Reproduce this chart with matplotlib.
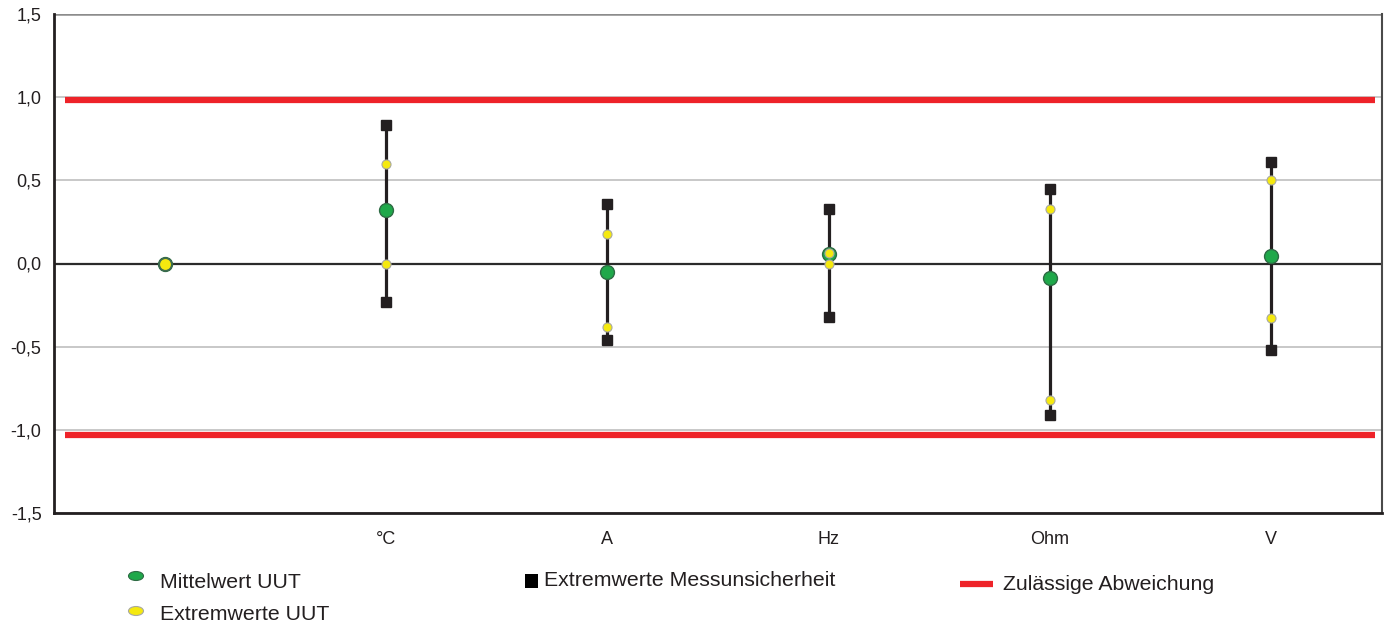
import matplotlib.pyplot as plt
from matplotlib.patches import Ellipse, Rectangle

plt.rcParams['font.family'] = ['Liberation Sans', 'DejaVu Sans']

# categories (first one has no label)
categories = ["", "°C", "A", "Hz", "Ohm", "V"]
mittelwert = [0.0, 0.32, -0.05, 0.06, -0.09, 0.045]
uut_max = [0.0, 0.60, 0.18, 0.065, 0.33, 0.50]
uut_min = [0.0, 0.0, -0.38, 0.0, -0.82, -0.33]
mu_max = [None, 0.83, 0.36, 0.33, 0.45, 0.61]
mu_min = [None, -0.23, -0.46, -0.32, -0.91, -0.52]
limit_upper = 0.98
limit_lower = -1.03
y_ticks = [-1.5, -1.0, -0.5, 0.0, 0.5, 1.0, 1.5]

fig = plt.figure(figsize=(13.89, 6.23), dpi=100)
ax = fig.add_axes([54 / 1389, 1 - 513 / 623, (1382 - 54) / 1389, (513 - 14) / 623])

x = list(range(len(categories)))

# grid lines
for t in y_ticks:
    if t == 0:
        ax.axhline(t, color="#2b2b2b", lw=1.6, zorder=1)
    elif t == 1.5:
        ax.axhline(t, color="#8c8c8c", lw=1.8, zorder=1)
    else:
        ax.axhline(t, color="#c4c4c4", lw=1.3, zorder=1)

# limits
ax.plot([-0.45, 5.47], [limit_upper, limit_upper], color="#ee2329", lw=4.5, zorder=2, solid_capstyle="butt")
ax.plot([-0.45, 5.47], [limit_lower, limit_lower], color="#ee2329", lw=4.5, zorder=2, solid_capstyle="butt")

# measurement uncertainty bars
for i in x:
    if mu_max[i] is None:
        continue
    ax.plot([i, i], [mu_min[i], mu_max[i]], color="#231f20", lw=2.3, zorder=3)
    ax.plot([i, i], [mu_min[i], mu_max[i]], ls="none", marker="s", ms=7.5,
            color="#231f20", zorder=4)

ax.plot(x, mittelwert, ls="none", marker="o", ms=10, mfc="#1fa84a", mec="#2e6b44", mew=1.0, zorder=5)
ax.plot(x, uut_max, ls="none", marker="o", ms=6.5, mfc="#f5e90f", mec="#a9a9a0", mew=0.8, zorder=6)
ax.plot(x, uut_min, ls="none", marker="o", ms=6.5, mfc="#f5e90f", mec="#a9a9a0", mew=0.8, zorder=6)
# first point: yellow over green
ax.plot([0], [0], ls="none", marker="o", ms=9, mfc="#f5e90f", mec="#3f6b50", mew=1.2, zorder=7)

ax.set_xlim(-0.5, 5.5)
ax.set_ylim(-1.5, 1.5)
ax.set_xticks(x)
ax.set_xticklabels(categories, fontsize=13, color="#231f20")
ax.set_yticks(y_ticks)
ax.set_yticklabels([f"{t:.1f}".replace(".", ",") for t in y_ticks], fontsize=13, color="#231f20")
ax.tick_params(axis="x", length=0, pad=13)
ax.tick_params(axis="y", length=0, pad=9)
for side in ["left", "bottom"]:
    ax.spines[side].set_color("#231f20")
    ax.spines[side].set_linewidth(2)
ax.spines["right"].set_color("#4a4a4a")
ax.spines["right"].set_linewidth(1.5)
ax.spines["top"].set_visible(False)

# legend drawn by hand
W, H = 1389, 623
fig.patches.append(Ellipse((136 / W, 1 - 576 / H), 15 / W, 9 / H, transform=fig.transFigure,
                           facecolor="#1fa84a", edgecolor="#2e6b44", lw=0.8))
fig.patches.append(Ellipse((136 / W, 1 - 611 / H), 15 / W, 9 / H, transform=fig.transFigure,
                           facecolor="#f5e90f", edgecolor="#a9a9a0", lw=0.8))
fig.patches.append(Rectangle((525 / W, 1 - 588 / H), 13 / W, 14 / H, transform=fig.transFigure,
                             facecolor="black", edgecolor="none"))
fig.add_artist(plt.Line2D([960 / W, 993 / W], [1 - 584 / H, 1 - 584 / H], transform=fig.transFigure,
                          color="#ee2329", lw=4.5, solid_capstyle="butt"))
fig.text(160 / W, 1 - 582 / H, "Mittelwert UUT", fontsize=15.3, color="#231f20", va="center")
fig.text(160 / W, 1 - 614 / H, "Extremwerte UUT", fontsize=15.3, color="#231f20", va="center")
fig.text(544 / W, 1 - 581 / H, "Extremwerte Messunsicherheit", fontsize=15.3, color="#231f20", va="center")
fig.text(1003 / W, 1 - 584 / H, "Zulässige Abweichung", fontsize=15.3, color="#231f20", va="center")

fig.savefig("out.png", dpi=100)
